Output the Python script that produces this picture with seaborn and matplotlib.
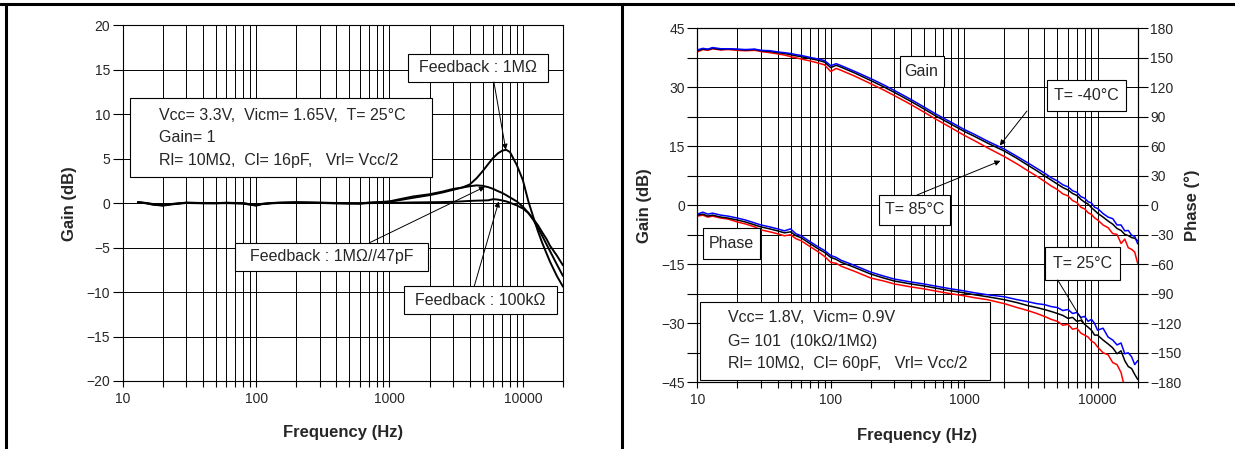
import matplotlib
matplotlib.use("Agg")
import matplotlib.pyplot as plt
import seaborn as sns
from matplotlib.patches import Rectangle
from matplotlib.lines import Line2D
from matplotlib.ticker import FixedLocator, FixedFormatter, LogLocator, NullFormatter

# ---- left panel: unity gain, three feedback networks ----
freq_l = [13, 15, 17, 20, 23, 27, 30, 40, 50, 60, 80, 100, 110, 130, 150, 200, 300, 400,
          500, 600, 700, 800, 1000, 1200, 1500, 2000, 2500, 3000, 3500, 4000, 4500, 5000,
          5500, 6000, 6500, 7000, 7500, 8000, 9000, 10000, 11000, 12000, 13000, 14000,
          15000, 16000, 18000, 20000]
g_1meg = [0.1, 0.0, -0.15, -0.25, -0.1, 0.0, 0.05, 0.0, 0.0, 0.05, 0.0, -0.25, -0.1, 0.0,
          0.05, 0.1, 0.05, 0.0, 0.0, -0.05, 0.05, 0.1,
          0.2, 0.45, 0.75, 1.0, 1.3, 1.6, 1.75, 2.1, 2.8, 3.6, 4.4, 5.1, 5.6, 5.9, 6.0,
          5.75, 4.3, 2.6, 0.2, -1.6, -3.2, -4.5, -5.6, -6.6, -8.2, -9.4]
g_47p = [0.12, 0.02, -0.1, -0.2, -0.12, -0.02, 0.05, 0.02, 0.0, 0.03, -0.02, -0.2, -0.08,
         0.02, 0.05, 0.08, 0.05, 0.02, -0.02, 0.0, 0.05, 0.08,
         0.15, 0.35, 0.6, 0.9, 1.2, 1.5, 1.75, 1.9, 2.0, 1.95, 1.8, 1.6, 1.35, 1.15, 0.9,
         0.65, 0.2, -0.4, -1.1, -1.9, -2.8, -3.7, -4.6, -5.4, -6.9, -8.2]
g_100k = [0.08, -0.02, -0.18, -0.28, -0.15, -0.04, 0.02, -0.02, -0.02, 0.0, -0.05, -0.28,
          -0.12, -0.02, 0.02, 0.05, 0.02, -0.03, -0.05, -0.05, 0.0, 0.02,
          0.02, 0.05, 0.08, 0.1, 0.12, 0.15, 0.2, 0.25, 0.28, 0.3, 0.32, 0.45, 0.4, 0.3, 0.2,
          0.05, -0.25, -0.6, -1.1, -1.8, -2.5, -3.3, -4.0, -4.8, -5.9, -7.0]

# ---- right panel: G=101 over temperature ----
freq_r = [10, 11, 12, 13, 15, 17, 20, 23, 27, 30,
          35, 40, 45, 50, 55, 60, 70, 80, 90, 100,
          110, 120, 150, 200, 250, 300, 400, 500, 600, 800,
          1000, 1200, 1500, 2000, 2500, 3000, 3500, 4000, 4500, 5000,
          5500, 6000, 6500, 7000, 7500, 8000, 8500, 9000, 9500, 10000,
          11000, 12000, 13000, 14000, 15000, 16000, 17000, 18000, 19000, 20000]
gain_25 = [39.3, 39.7, 39.6, 39.9, 39.6, 39.8, 39.6, 39.5, 39.6, 39.3,
           39.1, 38.8, 38.6, 38.3, 38.0, 37.8, 37.3, 36.9, 36.4, 35.0,
           35.6, 35.1, 33.7, 31.7, 30.1, 28.7, 26.4, 24.5, 22.9, 20.6,
           18.8, 17.5, 15.8, 13.8, 11.9, 10.2, 8.8, 7.5, 6.4, 5.4,
           4.5, 3.9, 3.0, 2.5, 1.5, 0.8, 0.3, -0.6, -1.3, -2.0,
           -3.0, -4.0, -4.8, -5.9, -6.4, -7.4, -7.7, -8.2, -8.4, -9.0]
gain_m40 = [39.5, 39.9, 39.7, 40.1, 39.8, 39.8, 39.7, 39.6, 39.7, 39.4,
            39.3, 39.0, 38.8, 38.6, 38.3, 38.1, 37.6, 37.2, 36.8, 35.5,
            36.0, 35.5, 34.1, 32.2, 30.6, 29.2, 26.9, 25.0, 23.4, 21.1,
            19.3, 18.0, 16.3, 14.3, 12.4, 10.8, 9.4, 8.2, 7.0, 6.2,
            5.2, 4.7, 3.7, 3.3, 2.2, 1.8, 0.9, 0.6, -0.5, -0.8,
            -2.1, -3.0, -3.4, -5.0, -5.0, -6.5, -6.4, -7.6, -7.9, -9.8]
gain_85 = [39.0, 39.6, 39.4, 39.8, 39.5, 39.6, 39.4, 39.3, 39.4, 39.1,
           38.8, 38.5, 38.2, 37.8, 37.5, 37.2, 36.7, 36.2, 35.7, 34.0,
           34.8, 34.3, 32.9, 30.9, 29.3, 27.9, 25.6, 23.7, 22.1, 19.7,
           17.8, 16.4, 14.6, 12.4, 10.5, 8.8, 7.4, 6.1, 4.9, 4.0,
           2.9, 2.4, 1.2, 0.7, -0.5, -0.9, -1.9, -2.3, -3.2, -3.7,
           -5.0, -5.7, -7.2, -7.4, -9.7, -8.6, -10.8, -11.2, -11.9, -14.8]
phase_25 = [-10, -9, -11, -10, -12, -13, -15, -17, -20, -22,
            -24, -26, -28, -27, -31, -33, -39, -44, -48, -53,
            -55, -58, -63, -70, -74, -77, -80, -82, -84, -87,
            -89, -91, -93, -96, -99, -102, -104, -106, -108, -110,
            -112, -115, -114, -118, -117, -121, -124, -127, -132, -132,
            -137, -141, -145, -151, -148, -158, -164, -166, -172, -177]
phase_m40 = [-9, -7, -9, -8, -10, -11, -13, -15, -18, -20,
             -22, -24, -26, -24, -29, -31, -37, -42, -46, -51,
             -53, -56, -61, -68, -72, -75, -78, -80, -82, -85,
             -87, -89, -91, -93, -96, -98, -100, -101, -103, -104,
             -107, -106, -110, -109, -114, -113, -118, -116, -120, -127,
             -125, -134, -137, -142, -140, -151, -150, -154, -162, -158]
phase_85 = [-11, -10, -12, -11, -13, -14, -17, -19, -22, -25,
            -27, -29, -31, -30, -34, -36, -42, -47, -52, -58,
            -59, -62, -67, -74, -77, -80, -83, -85, -87, -90,
            -92, -94, -96, -100, -104, -107, -110, -113, -116, -118,
            -122, -121, -126, -125, -130, -132, -134, -138, -140, -144,
            -150, -152, -160, -162, -170, -186]

decades = [10, 100, 1000, 10000]
decade_labels = ["10", "100", "1000", "10000"]

sns.set_theme(style="ticks")
plt.rcParams["font.family"] = ["Liberation Sans", "DejaVu Sans"]

W, H = 1235, 449
fig = plt.figure(figsize=(W / 100, H / 100), dpi=100)


def axes_rect(left, right, top, bottom):
    return [left / W, 1 - bottom / H, (right - left) / W, (bottom - top) / H]


def box(ax, x0, y0, x1, y1):
    ax.add_patch(Rectangle((x0, y0), x1 - x0, y1 - y0, transform=ax.transAxes,
                           facecolor="white", edgecolor="black", lw=0.8, zorder=5,
                           clip_on=False))


def arrow(ax, xy, tail, style="-|>"):
    ax.annotate("", xy=xy, xycoords="data", xytext=tail, textcoords="axes fraction",
                arrowprops=dict(arrowstyle=style, color="black", lw=0.7,
                                mutation_scale=8, shrinkA=0, shrinkB=0), zorder=6)


def freq_axis(ax):
    ax.set_xscale("log")
    ax.set_xlim(10, 20000)
    ax.xaxis.set_major_locator(FixedLocator(decades))
    ax.xaxis.set_major_formatter(FixedFormatter(decade_labels))
    ax.xaxis.set_minor_locator(LogLocator(base=10, subs=range(2, 10)))
    ax.xaxis.set_minor_formatter(NullFormatter())
    ax.grid(True, which="both", axis="both", color="black", lw=0.7)
    ax.tick_params(axis="x", which="both", direction="out", length=4, width=0.8,
                   labelsize=10, pad=4, color="black")
    ax.tick_params(axis="y", which="both", direction="out", length=7, width=0.8,
                   labelsize=10, pad=2, color="black")
    for s in ax.spines.values():
        s.set_color("black")
        s.set_linewidth(0.8)
    ax.set_xlabel("Frequency (Hz)", fontsize=12, fontweight="bold")


TXT = 11.5

# ---------------- left panel ----------------
axl = fig.add_axes(axes_rect(122.7, 563, 25.3, 381))
for vals in (g_100k, g_47p, g_1meg):
    sns.lineplot(x=freq_l, y=vals, ax=axl, color="black", lw=1.4, zorder=3)
freq_axis(axl)
axl.set_ylim(-20, 20)
axl.set_yticks(range(-20, 21, 5))
axl.set_ylabel("Gain (dB)", fontsize=12, fontweight="bold")
axl.yaxis.set_label_coords(-0.104, 0.5)
axl.xaxis.set_label_coords(0.5, -0.124)

box(axl, 0.0157, 0.5744, 0.7016, 0.7965)
for y, s in [(0.7478, "Vcc= 3.3V,  Vicm= 1.65V,  T= 25°C"),
             (0.6851, "Gain= 1"),
             (0.6185, "Rl= 10MΩ,  Cl= 16pF,   Vrl= Vcc/2")]:
    axl.text(0.0822, y, s, transform=axl.transAxes, fontsize=TXT, va="center", zorder=6)

box(axl, 0.648, 0.8406, 0.966, 0.9207)
axl.text(0.807, 0.8805, "Feedback : 1MΩ", transform=axl.transAxes, fontsize=TXT,
         ha="center", va="center", zorder=6)
arrow(axl, (7450, 6.0), (0.843, 0.8406))

box(axl, 0.2554, 0.3101, 0.6927, 0.3888)
axl.text(0.4741, 0.3495, "Feedback : 1MΩ//47pF", transform=axl.transAxes, fontsize=TXT,
         ha="center", va="center", zorder=6)
arrow(axl, (5200, 1.85), (0.5608, 0.3888))

box(axl, 0.6396, 0.1884, 0.9857, 0.2671)
axl.text(0.8126, 0.2277, "Feedback : 100kΩ", transform=axl.transAxes, fontsize=TXT,
         ha="center", va="center", zorder=6)
arrow(axl, (6600, 0.2), (0.7986, 0.2671))

# ---------------- right panel ----------------
axr = fig.add_axes(axes_rect(697.3, 1137.7, 28.3, 382.3))
axr.set_xscale("log")
axp = axr.twinx()
sns.lineplot(x=freq_r, y=gain_85, ax=axr, color="#ff0000", lw=1.1, zorder=3)
sns.lineplot(x=freq_r, y=gain_25, ax=axr, color="black", lw=1.1, zorder=3)
sns.lineplot(x=freq_r, y=gain_m40, ax=axr, color="#0000ff", lw=1.1, zorder=3)
sns.lineplot(x=freq_r[:len(phase_85)], y=phase_85, ax=axp, color="#ff0000", lw=1.1)
sns.lineplot(x=freq_r, y=phase_25, ax=axp, color="black", lw=1.1)
sns.lineplot(x=freq_r, y=phase_m40, ax=axp, color="#0000ff", lw=1.1)
freq_axis(axr)
axr.set_ylim(-45, 45)
axr.set_yticks(range(-45, 46, 15))
axr.yaxis.set_minor_locator(FixedLocator([-37.5, -22.5, -7.5, 7.5, 22.5, 37.5]))
axr.set_ylabel("Gain (dB)", fontsize=12, fontweight="bold")
axr.yaxis.set_label_coords(-0.102, 0.5)
axr.xaxis.set_label_coords(0.5, -0.13)

axp.set_ylim(-180, 180)
axp.set_yticks(range(-180, 181, 30))
axp.grid(False)
axp.tick_params(axis="y", direction="out", length=7, width=0.8, labelsize=10, pad=2,
                color="black")
for s in axp.spines.values():
    s.set_color("black")
    s.set_linewidth(0.8)
axp.set_ylabel("Phase (°)", fontsize=12, fontweight="bold")
axp.yaxis.set_label_coords(1.106, 0.5)

box(axp, 0.4594, 0.8333, 0.5600, 0.9218)
axp.text(0.5095, 0.8775, "Gain", transform=axp.transAxes, fontsize=TXT,
         ha="center", va="center", zorder=6)

box(axp, 0.7941, 0.7664, 0.9734, 0.854)
axp.text(0.8837, 0.8102, "T= -40°C", transform=axp.transAxes, fontsize=TXT,
         ha="center", va="center", zorder=6)
arrow(axr, (1850, 15.2), (0.7486, 0.7664))

box(axp, 0.4121, 0.4444, 0.5734, 0.5291)
axp.text(0.4932, 0.4873, "T= 85°C", transform=axp.transAxes, fontsize=TXT,
         ha="center", va="center", zorder=6)
arrow(axr, (1870, 11.3), (0.4989, 0.5291))

box(axp, 0.0123, 0.3475, 0.1417, 0.4359)
axp.text(0.077, 0.3917, "Phase", transform=axp.transAxes, fontsize=TXT,
         ha="center", va="center", zorder=6)

box(axp, 0.7895, 0.289, 0.9598, 0.3822)
axp.text(0.8747, 0.3356, "T= 25°C", transform=axp.transAxes, fontsize=TXT,
         ha="center", va="center", zorder=6)
arrow(axp, (7830, -119), (0.8183, 0.289), style="-")

box(axp, 0.0061, 0.0065, 0.6640, 0.2277)
for y, s in [(0.1817, "Vcc= 1.8V,  Vicm= 0.9V"),
             (0.1147, "G= 101  (10kΩ/1MΩ)"),
             (0.0537, "Rl= 10MΩ,  Cl= 60pF,   Vrl= Vcc/2")]:
    axp.text(0.0688, y, s, transform=axp.transAxes, fontsize=TXT, va="center", zorder=6)

# table frame around the two panels
for xs, ys in [([0, 1], [1 - 4.3 / H, 1 - 4.3 / H]),
               ([6 / W, 6 / W], [0, 1 - 4.3 / H]),
               ([622 / W, 622 / W], [0, 1 - 4.3 / H])]:
    fig.add_artist(Line2D(xs, ys, transform=fig.transFigure, color="black", lw=2.2))

fig.savefig("out.png", dpi=100)
